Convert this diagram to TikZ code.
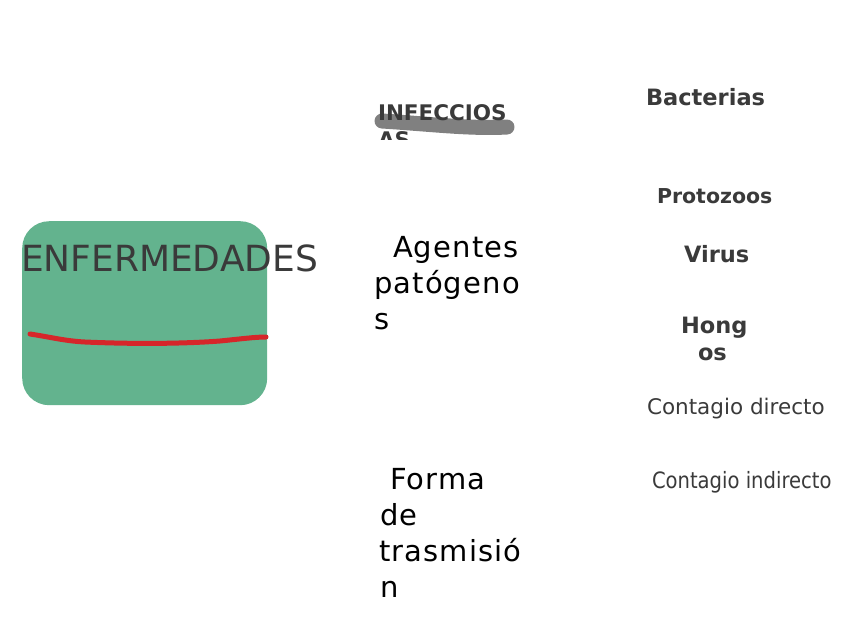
\documentclass[tikz,border=0pt]{standalone}
\usepackage{fontspec}
\setmainfont{DejaVu Sans}
\newfontfamily\dv{DejaVu Sans}
\newfontfamily\dvsp[LetterSpace=4]{DejaVu Sans}
\newfontfamily\dvc[FakeStretch=0.87]{DejaVu Sans}
\definecolor{boxgreen}{RGB}{99,179,142}
\definecolor{redline}{RGB}{214,38,42}
\definecolor{hlgray}{RGB}{128,128,128}
\definecolor{txtgray}{RGB}{58,58,58}
\begin{document}
\begin{tikzpicture}[x=1pt,y=-1pt,
  lbl/.style={anchor=base west,inner sep=0pt,outer sep=0pt},
  boldlbl/.style={lbl,text=txtgray,font=\dv\bfseries\fontsize{22.5}{27}\selectfont},
  reglbl/.style={lbl,text=txtgray,font=\dv\fontsize{21.5}{26}\selectfont},
  biglbl/.style={lbl,text=black,font=\dvsp\fontsize{29}{36}\selectfont}]
\useasboundingbox (0,0) rectangle (848,635);
% main box
\node[draw=none,fill=boxgreen,rounded corners=27pt,minimum width=245pt,minimum height=184pt,inner sep=0pt,anchor=north west] (box) at (22,221) {};
\coordinate (r1) at (30,334);
\coordinate (r2) at (266,337);
\draw[redline,line width=5pt,line cap=round,line join=round]
  (r1) .. controls (50,337) and (65,341) .. (85,342)
       .. controls (130,344) and (180,344) .. (220,341)
       .. controls (240,339) and (255,337) .. (r2);
\node[lbl,text=txtgray,font=\dv\fontsize{36}{43}\selectfont] (enf) at (21,271) {ENFERMEDADES};
% INFECCIOSAS with highlight
\coordinate (h1) at (382,121);
\coordinate (h2) at (507,127);
\draw[hlgray,line width=15pt,line cap=round] (h1) .. controls (430,124) and (470,129) .. (h2);
\begin{scope}
\clip (360,80) rectangle (530,139);
\node[lbl,text=txtgray,font=\dv\bfseries\fontsize{21.5}{27}\selectfont] (inf1) at (378,120) {INFECCIOS};
\node[lbl,text=txtgray,font=\dv\bfseries\fontsize{21.5}{27}\selectfont] (inf2) at (378,147) {AS};
\end{scope}
% Agentes patogenos
\node[biglbl] (ag1) at (393,257) {Agentes};
\node[biglbl] (ag2) at (374,293) {patógeno};
\node[biglbl] (ag3) at (374,329) {s};
% Forma de trasmision
\node[biglbl] (fo1) at (390,489) {Forma};
\node[biglbl] (fo2) at (380,525) {de};
\node[biglbl] (fo3) at (379,561) {trasmisió};
\node[biglbl] (fo4) at (380,597) {n};
% right column
\node[boldlbl] (bac) at (646,105) {Bacterias};
\node[boldlbl,font=\dv\bfseries\fontsize{20.5}{25}\selectfont] (pro) at (657,203) {Protozoos};
\node[boldlbl] (vir) at (684,262) {Virus};
\node[boldlbl] (hon1) at (681,333) {Hong};
\node[boldlbl] (hon2) at (698,360) {os};
\node[reglbl] (cd) at (647,414) {Contagio directo};
\node[reglbl,font=\dvc\fontsize{22.5}{27}\selectfont] (ci) at (652,488) {Contagio indirecto};
\end{tikzpicture}
\end{document}
